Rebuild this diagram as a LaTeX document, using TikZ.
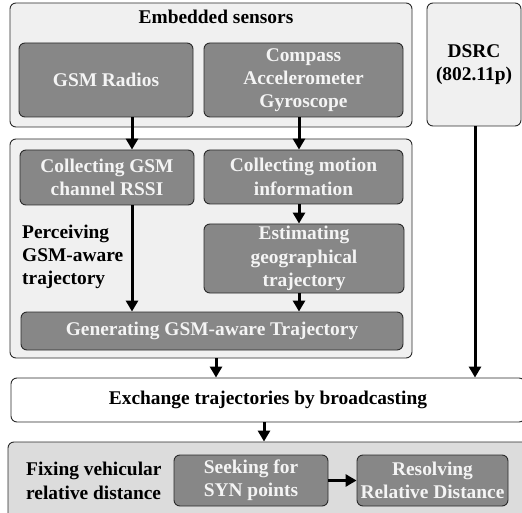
\documentclass[tikz,border=0pt]{standalone}
\usepackage{fontspec}
\setmainfont{Liberation Serif}
\usetikzlibrary{arrows.meta,calc}
\definecolor{outerfill}{HTML}{F0F0F0}
\definecolor{lowfill}{HTML}{DCDCDC}
\definecolor{innerfill}{HTML}{878787}
\definecolor{edgecol}{HTML}{2A2A2A}
\definecolor{intext}{HTML}{F4F4F4}
\begin{document}
\begin{tikzpicture}[x=1pt,y=-1pt,
  font=\bfseries\fontsize{19.4}{23.3}\selectfont,
  outerbox/.style={draw=edgecol,line width=0.9pt,rounded corners=6pt,fill=outerfill,inner sep=0pt},
  lowbox/.style={draw=edgecol,line width=0.9pt,rounded corners=6pt,fill=lowfill,inner sep=0pt},
  whitebox/.style={draw=edgecol,line width=0.9pt,rounded corners=6pt,fill=white,inner sep=0pt},
  innerbox/.style={draw=edgecol,line width=0.9pt,rounded corners=6pt,fill=innerfill,text=intext,inner sep=0pt,align=center},
  label/.style={inner sep=0pt,align=left,text=black},
  flow/.style={line width=3pt,-{Triangle[width=12pt,length=11pt]}}]
\useasboundingbox (0,0) rectangle (522,513);
% outer containers
\node[outerbox,minimum width=402pt,minimum height=124pt] (outerA) at (211,65) {};
\node[outerbox,minimum width=94pt,minimum height=123pt,align=center] (dsrc) at (474,64.5) {DSRC\\(802.11p)};
\node[outerbox,minimum width=402pt,minimum height=219pt] (outerB) at (211,248.5) {};
\node[whitebox,minimum width=514pt,minimum height=44pt] (exch) at (268,400) {Exchange trajectories by broadcasting};
\node[lowbox,minimum width=520pt,minimum height=83pt] (low) at (268,483.5) {};
% titles
\node[label] (ttl) at (216,17) {Embedded sensors};
\node[label,anchor=west] (perc) at (22,257) {Perceiving\\GSM-aware\\trajectory};
\node[label,anchor=west] (fix) at (26,481) {Fixing vehicular\\relative distance};
% inner boxes
\node[innerbox,minimum width=174pt,minimum height=74pt] (gsm) at (106,80) {GSM Radios};
\node[innerbox,minimum width=199pt,minimum height=74pt] (imu) at (303.5,80) {Compass\\Accelerometer\\Gyroscope};
\node[innerbox,minimum width=174pt,minimum height=55pt] (cgsm) at (107,177.5) {Collecting GSM\\channel RSSI};
\node[innerbox,minimum width=199pt,minimum height=54pt] (cmot) at (303.5,177) {Collecting motion\\information};
\node[innerbox,minimum width=200pt,minimum height=69pt] (est) at (304,258.5) {Estimating\\geographical\\trajectory};
\node[innerbox,minimum width=382pt,minimum height=38pt] (gen) at (212,331) {Generating GSM-aware Trajectory};
\node[innerbox,minimum width=154pt,minimum height=51pt] (seek) at (251,480.5) {Seeking for\\SYN points};
\node[innerbox,minimum width=151pt,minimum height=51pt] (res) at (432.5,480.5) {Resolving\\Relative Distance};
% connectors
\coordinate (gsmx) at (132,117);
\coordinate (imux) at (299,117);
\coordinate (bx) at (216,0);
\coordinate (dx) at (475,0);
\coordinate (ex) at (264,0);
\draw[flow] (gsmx |- gsm.south) -- (gsmx |- cgsm.north);
\draw[flow] (imux |- imu.south) -- (imux |- cmot.north);
\draw[flow] (imux |- cmot.south) -- (imux |- est.north);
\draw[flow] (gsmx |- cgsm.south) -- (gsmx |- gen.north);
\draw[flow] (imux |- est.south) -- (imux |- gen.north);
\draw[flow] (bx |- outerB.south) -- (bx |- exch.north);
\draw[flow] (dx |- dsrc.south) -- (dx |- exch.north);
\draw[flow] (ex |- exch.south) -- (ex |- low.north);
\draw[flow] (seek.east) -- (res.west);
\end{tikzpicture}
\end{document}
